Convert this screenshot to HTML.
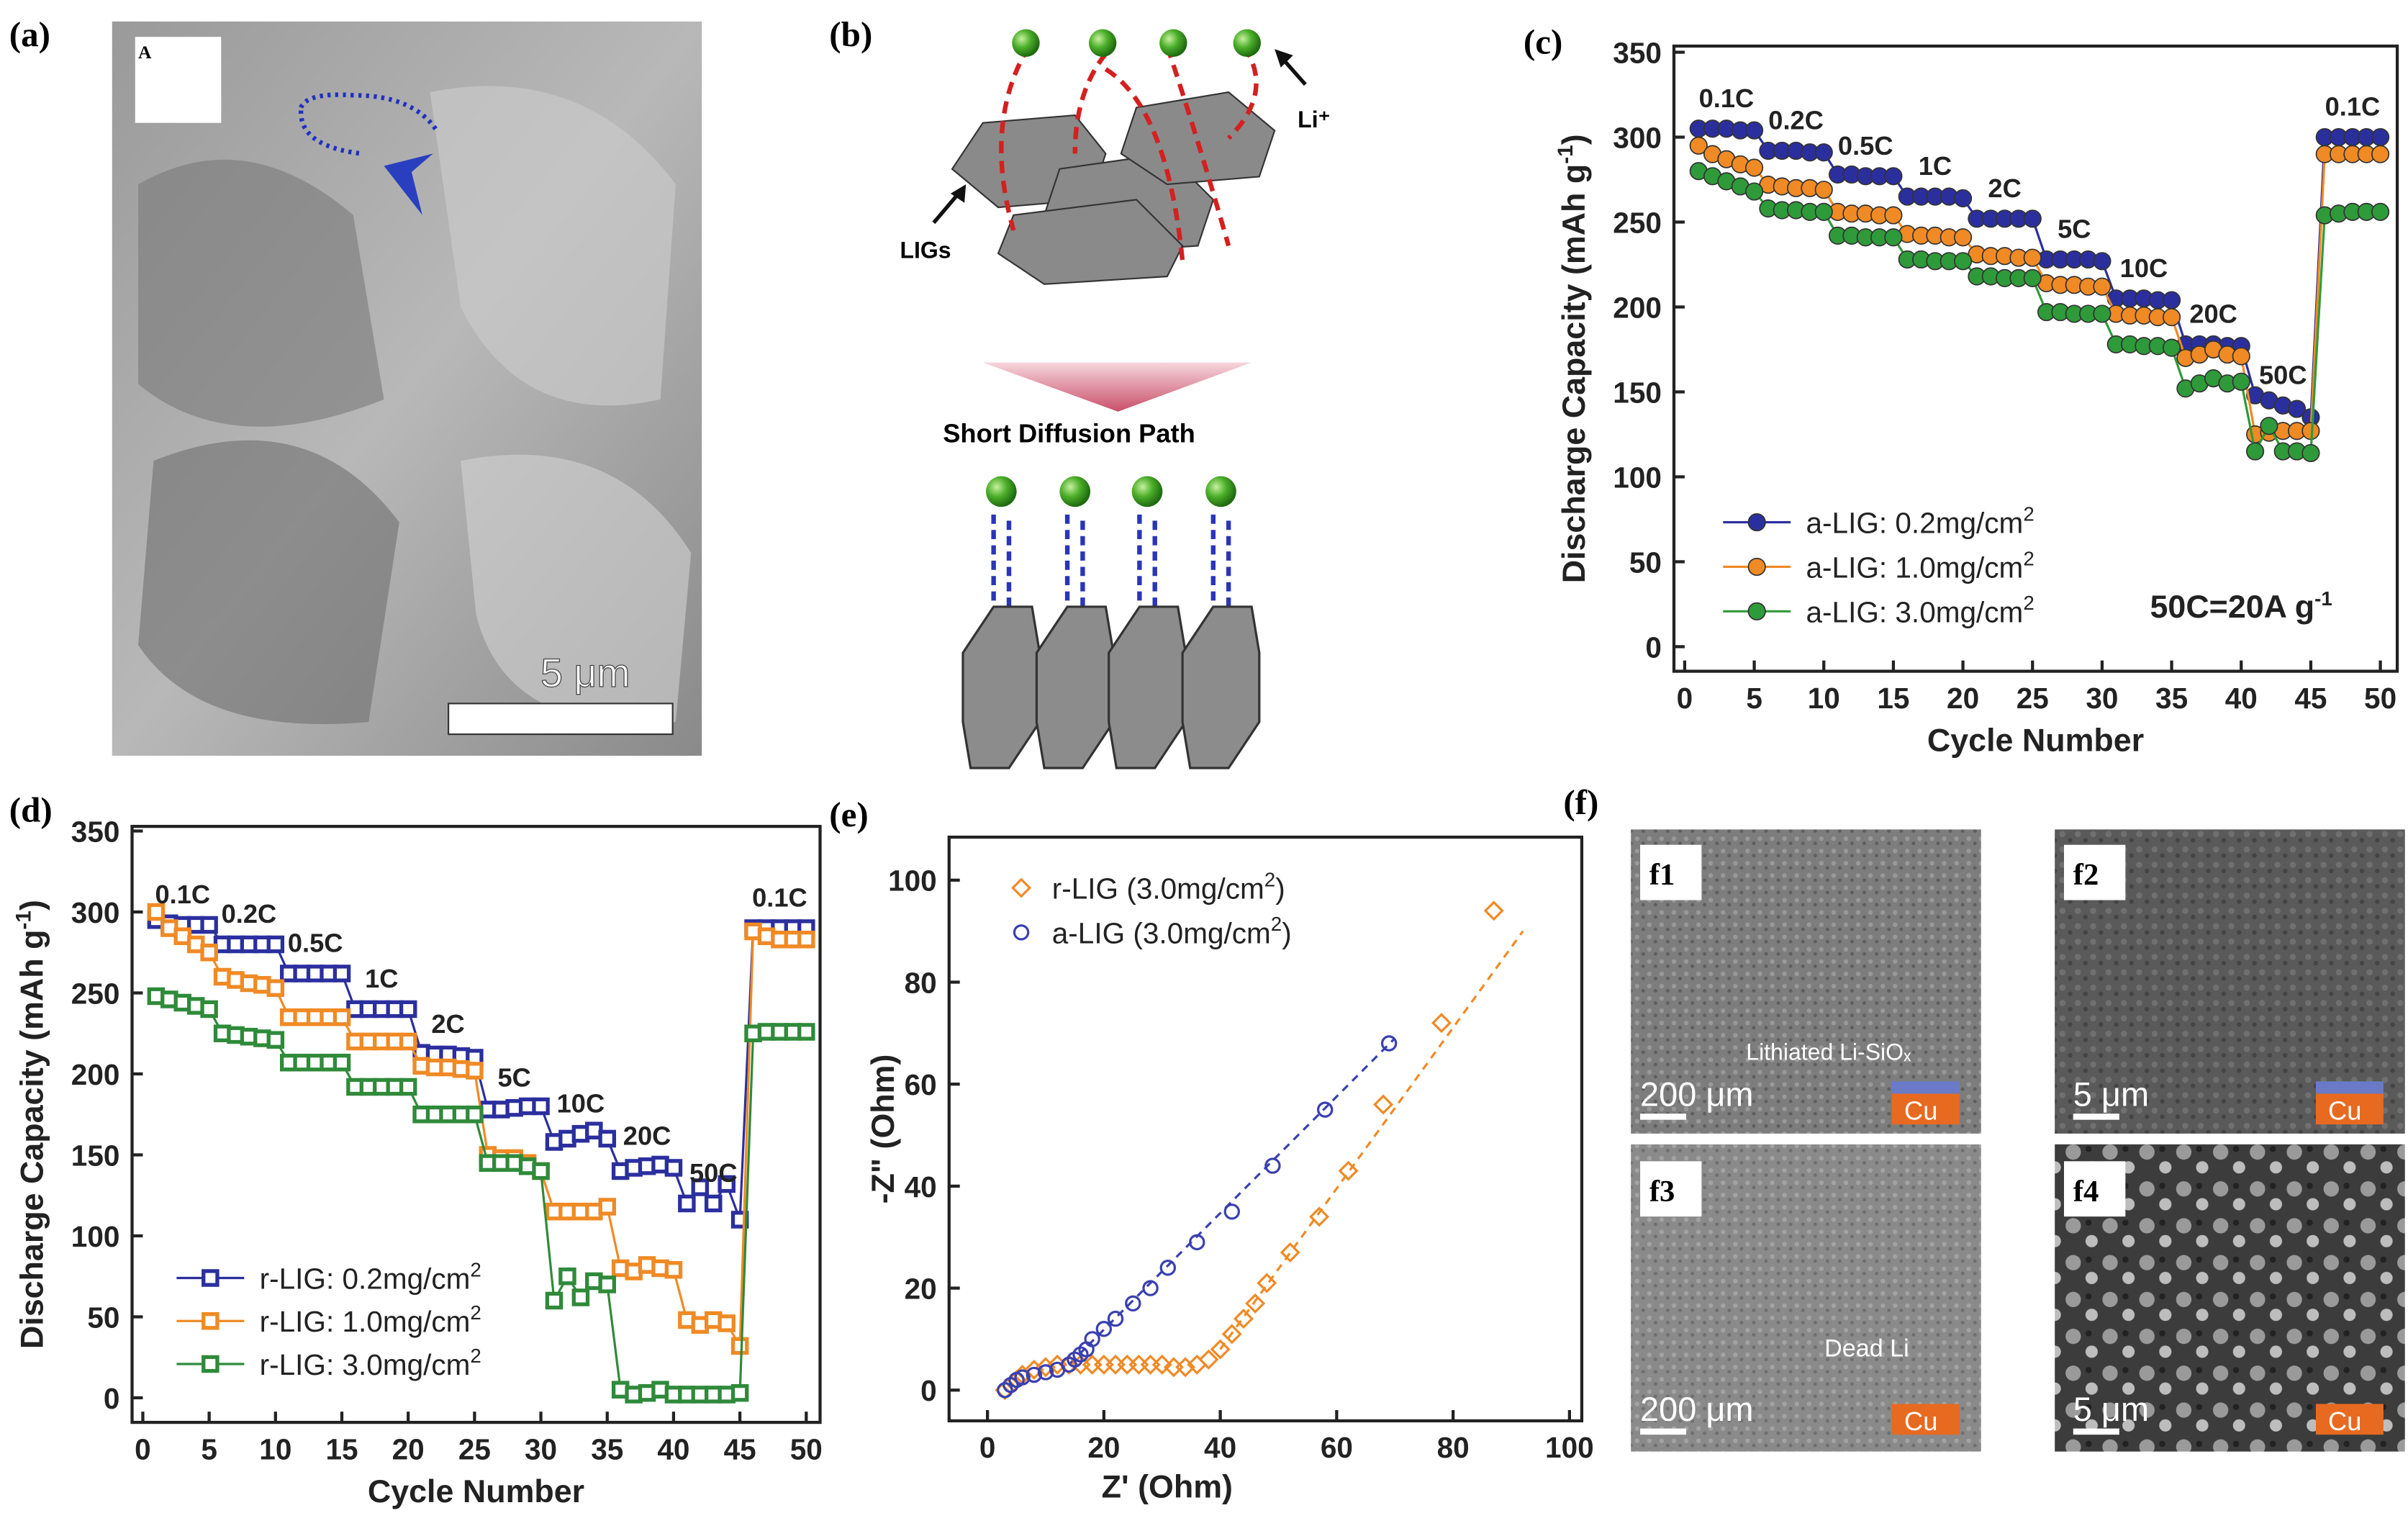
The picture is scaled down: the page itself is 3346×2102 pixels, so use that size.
<!DOCTYPE html>
<html><head><meta charset="utf-8">
<style>
html,body{margin:0;padding:0;background:#fff;}
svg{display:block;font-family:"Liberation Sans",Arial,sans-serif;}
.pl{font-family:"Liberation Serif",serif;font-weight:bold;font-size:23px;}
.tk{font-size:19px;font-weight:bold;fill:#222;}
.at{font-size:21px;font-weight:bold;fill:#222;}
.lg{font-size:19px;fill:#222;}
.rl{font-size:17px;font-weight:bold;fill:#222;}
</style></head>
<body>
<svg id="fig" width="3346" height="2102" viewBox="0 0 1568 985" preserveAspectRatio="none" xmlns="http://www.w3.org/2000/svg">
<defs>
<radialGradient id="gGreen" cx="35%" cy="35%" r="65%"><stop offset="0" stop-color="#c8f0a0"/><stop offset="0.5" stop-color="#4caf2a"/><stop offset="1" stop-color="#1f6b10"/></radialGradient>
<linearGradient id="arrowG" x1="0" y1="0" x2="0" y2="1"><stop offset="0" stop-color="#f6d5dc"/><stop offset="1" stop-color="#c9506a"/></linearGradient>
<linearGradient id="semA" x1="0" y1="0" x2="1" y2="1"><stop offset="0" stop-color="#9a9a9a"/><stop offset="0.5" stop-color="#b8b8b8"/><stop offset="1" stop-color="#8a8a8a"/></linearGradient>
<pattern id="noise1" width="8" height="8" patternUnits="userSpaceOnUse"><rect width="8" height="8" fill="#7d7d7d"/><circle cx="2" cy="2" r="1.5" fill="#999"/><circle cx="6" cy="5" r="1.2" fill="#5f5f5f"/></pattern>
<pattern id="noise2" width="10" height="10" patternUnits="userSpaceOnUse"><rect width="10" height="10" fill="#5a5a5a"/><circle cx="3" cy="3" r="2" fill="#707070"/><circle cx="8" cy="7" r="1.5" fill="#444"/></pattern>
<pattern id="noise4" width="24" height="24" patternUnits="userSpaceOnUse"><rect width="24" height="24" fill="#3c3c3c"/><circle cx="6" cy="6" r="5" fill="#9a9a9a"/><circle cx="18" cy="16" r="4" fill="#bdbdbd"/><circle cx="16" cy="4" r="2" fill="#222"/></pattern>
</defs>

<!-- panel a -->
<text class="pl" x="6" y="30">(a)</text>
<g>
<rect x="73" y="14" width="384" height="478" fill="url(#semA)"/>
<path d="M90 120 Q160 80 230 140 L250 260 Q150 300 90 250Z" fill="#7a7a7a" opacity="0.6"/>
<path d="M280 60 Q380 40 440 120 L430 260 Q340 280 300 200Z" fill="#c9c9c9" opacity="0.7"/>
<path d="M100 300 Q200 260 260 340 L240 470 Q130 480 90 420Z" fill="#6f6f6f" opacity="0.6"/>
<path d="M300 300 Q400 280 450 360 L440 470 Q330 480 310 400Z" fill="#d2d2d2" opacity="0.6"/>
<rect x="88" y="24" width="56" height="56" fill="#fff"/>
<text x="90" y="38" font-size="12" font-weight="bold" font-family="Liberation Serif,serif">A</text>
<path d="M196 70 Q200 60 230 62 Q270 62 285 86" fill="none" stroke="#2030c0" stroke-width="3" stroke-dasharray="2,3"/>
<path d="M196 72 Q195 95 235 100" fill="none" stroke="#2030c0" stroke-width="3" stroke-dasharray="2,3"/>
<polygon points="250,108 275,140 268,112 282,100" fill="#2a3fbf"/>
<rect x="292" y="458" width="146" height="20" fill="#fff" stroke="#333"/>
<text x="352" y="447" font-size="26" fill="#fff" stroke="#444" stroke-width="0.6">5 μm</text>
</g>

<!-- panel b -->
<text class="pl" x="540" y="30">(b)</text>
<g>
<polygon points="640,80 700,75 720,100 710,130 650,135 620,110" fill="#8a8a8a" stroke="#333"/>
<polygon points="690,110 760,100 790,130 780,160 710,165 680,140" fill="#8a8a8a" stroke="#333"/>
<polygon points="660,140 740,130 770,160 760,180 680,185 650,165" fill="#8a8a8a" stroke="#333"/>
<polygon points="740,70 800,60 830,85 820,115 760,120 730,100" fill="#8a8a8a" stroke="#333"/>
<path d="M670 30 Q640 80 660 150 M720 35 Q700 60 700 100 M760 30 Q780 90 800 160 M810 30 Q830 60 800 90 M720 45 Q760 70 770 170" fill="none" stroke="#d42020" stroke-width="3" stroke-dasharray="8,5"/>
<circle cx="668" cy="28" r="9" fill="url(#gGreen)"/><circle cx="718" cy="28" r="9" fill="url(#gGreen)"/>
<circle cx="764" cy="28" r="9" fill="url(#gGreen)"/><circle cx="812" cy="28" r="9" fill="url(#gGreen)"/>
<path d="M850 55 L835 38" stroke="#111" stroke-width="2.5"/><polygon points="830,32 842,36 834,44" fill="#111"/>
<text x="845" y="83" font-size="15" font-weight="bold">Li⁺</text>
<path d="M608 145 L625 125" stroke="#111" stroke-width="2.5"/><polygon points="629,120 628,132 619,126" fill="#111"/>
<text x="586" y="168" font-size="15" font-weight="bold">LIGs</text>
<polygon points="640,236 815,236 728,268" fill="url(#arrowG)"/>
<text x="614" y="288" font-size="17" font-weight="bold">Short Diffusion Path</text>
<g id="hexrow"></g>
</g>

<!-- panel c -->
<text class="pl" x="992" y="35">(c)</text>
<g id="chartC"></g>
<!-- panel d -->
<text class="pl" x="6" y="535">(d)</text>
<g id="chartD"></g>
<!-- panel e -->
<text class="pl" x="540" y="538">(e)</text>
<g id="chartE"></g>

<!-- panel f -->
<text class="pl" x="1018" y="530">(f)</text>
<g>
<rect x="1062" y="540" width="228" height="198" fill="url(#noise1)"/>
<rect x="1338" y="540" width="228" height="198" fill="url(#noise2)"/>
<rect x="1062" y="745" width="228" height="200" fill="url(#noise1)" opacity="0.9"/>
<rect x="1338" y="745" width="228" height="200" fill="url(#noise4)"/>
<g font-family="Liberation Serif,serif" font-weight="bold" font-size="20">
<rect x="1068" y="550" width="40" height="36" fill="#fff"/><text x="1074" y="576">f1</text>
<rect x="1344" y="550" width="40" height="36" fill="#fff"/><text x="1350" y="576">f2</text>
<rect x="1068" y="756" width="40" height="36" fill="#fff"/><text x="1074" y="782">f3</text>
<rect x="1344" y="756" width="40" height="36" fill="#fff"/><text x="1350" y="782">f4</text>
</g>
<g font-size="22" fill="#fff">
<text x="1068" y="720">200 μm</text><rect x="1068" y="725" width="30" height="4" fill="#fff"/>
<text x="1350" y="720">5 μm</text><rect x="1350" y="725" width="30" height="4" fill="#fff"/>
<text x="1068" y="925">200 μm</text><rect x="1068" y="930" width="30" height="4" fill="#fff"/>
<text x="1350" y="925">5 μm</text><rect x="1350" y="930" width="30" height="4" fill="#fff"/>
</g>
<text x="1137" y="690" font-size="15" fill="#fff">Lithiated Li-SiOₓ</text>
<text x="1188" y="883" font-size="16" fill="#fff">Dead Li</text>
<g>
<rect x="1232" y="712" width="44" height="20" fill="#e86a20"/><text x="1240" y="729" font-size="17" fill="#fff">Cu</text>
<rect x="1508" y="712" width="44" height="20" fill="#e86a20"/><text x="1516" y="729" font-size="17" fill="#fff">Cu</text>
<rect x="1232" y="914" width="44" height="20" fill="#e86a20"/><text x="1240" y="931" font-size="17" fill="#fff">Cu</text>
<rect x="1508" y="914" width="44" height="20" fill="#e86a20"/><text x="1516" y="931" font-size="17" fill="#fff">Cu</text>
<rect x="1232" y="704" width="44" height="8" fill="#6a7ac8"/><rect x="1508" y="704" width="44" height="8" fill="#6a7ac8"/>
</g>
</g>
</svg>

<script>
// ---------- Panel (c) data ----------
const cycles = Array.from({length:50},(_, i)=>i+1);
const rateLabels = ["0.1C","0.2C","0.5C","1C","2C","5C","10C","20C","50C","0.1C"];
const cBlue  = [305,305,305,304,304, 292,292,292,291,291, 278,278,277,277,277, 265,265,265,265,264, 252,252,252,252,252, 228,228,228,228,227, 205,205,205,204,204, 178,178,178,177,177, 148,145,142,140,135, 300,300,300,300,300];
const cOrange= [295,290,287,284,282, 272,271,270,270,269, 256,255,255,254,254, 243,242,242,241,241, 231,230,230,229,229, 214,213,213,212,212, 196,195,195,194,194, 170,172,175,172,171, 125,126,127,127,127, 290,290,290,290,290];
const cGreen = [280,277,274,271,268, 258,257,257,256,256, 242,242,241,241,241, 228,228,227,227,227, 218,218,217,217,217, 197,197,196,196,196, 178,178,177,177,176, 152,155,158,155,156, 115,130,115,115,114, 254,255,256,256,256];
const cLegend = ["a-LIG: 0.2mg/cm","a-LIG: 1.0mg/cm","a-LIG: 3.0mg/cm"];
const capTicks = [0,50,100,150,200,250,300,350];
const cycTicks = [0,5,10,15,20,25,30,35,40,45,50];

// ---------- Panel (d) data ----------
const dBlue  = [295,293,292,292,292, 280,280,280,280,280, 262,262,262,262,262, 240,240,240,240,240, 213,212,212,211,210, 178,178,179,180,180, 158,160,163,165,160, 140,142,143,144,142, 120,130,120,132,110, 290,290,290,290,290];
const dOrange= [300,290,285,280,275, 260,258,256,255,253, 235,235,235,235,235, 220,220,220,220,220, 205,204,204,203,202, 150,148,148,145,140, 115,115,115,115,118, 80,78,82,80,79, 48,45,48,46,32, 288,285,283,283,283];
const dGreen = [248,246,244,242,240, 225,224,223,222,221, 207,207,207,207,207, 192,192,192,192,192, 175,175,175,175,175, 145,145,145,143,140, 60,75,62,72,70, 5,2,3,5,2, 2,2,2,2,3, 225,226,226,226,226];
const dLegend = ["r-LIG: 0.2mg/cm","r-LIG: 1.0mg/cm","r-LIG: 3.0mg/cm"];

// ---------- Panel (e) data ----------
const rZre = [3,4,5,6,8,10,12,14,16,18,20,22,24,26,28,30,32,34,36,38,40,42,44,46,48,52,57,62,68,78,87];
const rZim = [0,1,2,3,4,4.5,5,5,5,5,5,5,5,5,5,5,4.5,4.5,5,6,8,11,14,17,21,27,34,43,56,72,94];
const aZre = [3,4,5,6,8,10,12,14,15,16,17,18,20,22,25,28,31,36,42,49,58,69];
const aZim = [0,1,2,2.5,3,3.5,4,5,6,7,8,10,12,14,17,20,24,29,35,44,55,68];
const rFit = [[40,8],[92,90]];
const aFit = [[14,5],[70,69]];
const zTicks = [0,20,40,60,80,100];
const eLegend = ["r-LIG (3.0mg/cm","a-LIG (3.0mg/cm"];

const NS="http://www.w3.org/2000/svg";
function mk(parent,tag,attrs,text){const e=document.createElementNS(NS,tag);for(const k in attrs)e.setAttribute(k,attrs[k]);if(text!==undefined)e.textContent=text;parent.appendChild(e);return e;}

// hexagon row in panel b
(function(){
  const g=document.getElementById('hexrow');
  [652,700,747,795].forEach(cx=>{
    const c=mk(g,'circle',{cx:cx,cy:320,r:10,fill:'url(#gGreen)'});
    
    
    mk(g,'path',{d:`M${cx-5} 335 L${cx-5} 395 M${cx+5} 395 L${cx+5} 335`,stroke:'#2a35b8','stroke-width':3,'stroke-dasharray':'6,4',fill:'none'});
    const h=mk(g,'polygon',{points:`${cx-25},425 ${cx-5},395 ${cx+20},395 ${cx+25},425 ${cx+25},470 ${cx+5},500 ${cx-20},500 ${cx-25},470`,fill:'#8c8c8c',stroke:'#333','stroke-width':1.5});
    
    
  });
})();

function rateChart(gid,box,series,colors,legend,shape,rlabels,legendPos){
  const g=document.getElementById(gid);
  const X=v=>box.x0+(v-0)/(50-0)*(box.x1-box.x0);
  const Y=v=>box.y0-(v)/350*(box.y0-box.y1);
  const fr=mk(g,'rect',{x:box.l,y:box.t,width:box.r-box.l,height:box.b-box.t,fill:'none',stroke:'#222','stroke-width':2});
  
  
  capTicks.forEach(t=>{
    mk(g,'line',{x1:box.l,x2:box.l+7,y1:Y(t),y2:Y(t),stroke:'#222','stroke-width':2});
    const tl=mk(g,'text',{x:box.l-8,y:Y(t)+7,'text-anchor':'end',class:'tk'},String(t));
    
    
  });
  cycTicks.forEach(t=>{
    mk(g,'line',{x1:X(t),x2:X(t),y1:box.b,y2:box.b-7,stroke:'#222','stroke-width':2});
    const tl=mk(g,'text',{x:X(t),y:box.b+24,'text-anchor':'middle',class:'tk'},String(t));
    
    
  });
  const xt=mk(g,'text',{x:(box.l+box.r)/2,y:box.b+52,'text-anchor':'middle',class:'at'},'Cycle Number');
  
  
  const cy=(box.t+box.b)/2;
  const yt=mk(g,'text',{x:box.l-58,y:cy,'text-anchor':'middle',class:'at',transform:`rotate(-90 ${box.l-58} ${cy})`});
  
  
  yt.innerHTML='Discharge Capacity (mAh g<tspan dy="-8" font-size="14">-1</tspan><tspan dy="8">)</tspan>';
  series.forEach((s,si)=>{
    const pts=s.map((v,i)=>X(cycles[i])+','+Y(v)).join(' ');
    const pl=mk(g,'polyline',{points:pts,fill:'none',stroke:colors[si],'stroke-width':1.5});
    
    
    s.forEach((v,i)=>{
      let m;
      if(shape==='circle') m=mk(g,'circle',{cx:X(cycles[i]),cy:Y(v),r:5.5,fill:colors[si],stroke:'#333','stroke-width':0.8});
      else m=mk(g,'rect',{x:X(cycles[i])-4.5,y:Y(v)-4.5,width:9,height:9,fill:'#fff',stroke:colors[si],'stroke-width':2.5});
      
      
    });
  });
  rlabels.forEach((lbl,k)=>{
    const i=k*5+2;
    const top=Math.max(series[0][i],series[1][i]);
    const t=mk(g,'text',{x:X(cycles[i]),y:Y(top)-14,'text-anchor':'middle',class:'rl'},lbl);
    
    
  });
  legend.forEach((lbl,k)=>{
    const ly=legendPos.y+k*legendPos.dy;
    mk(g,'line',{x1:legendPos.x,x2:legendPos.x+44,y1:ly,y2:ly,stroke:colors[k],'stroke-width':1.5});
    if(shape==='circle') mk(g,'circle',{cx:legendPos.x+22,cy:ly,r:5.5,fill:colors[k],stroke:'#333','stroke-width':0.8});
    else mk(g,'rect',{x:legendPos.x+17.5,y:ly-4.5,width:9,height:9,fill:'#fff',stroke:colors[k],'stroke-width':2.5});
    const t=mk(g,'text',{x:legendPos.x+54,y:ly+7,class:'lg'});
    
    
    t.innerHTML=lbl+'<tspan dy="-8" font-size="13">2</tspan>';
  });
}
rateChart('chartC',{l:1090,r:1561,t:30,b:437,x0:1097,x1:1550,y0:421,y1:34},[cBlue,cOrange,cGreen],['#2b2f9e','#f08a25','#2f9a3a'],cLegend,'circle',rateLabels,{x:1122,y:340,dy:29});
(function(){const t=mk(document.getElementById('chartC'),'text',{x:1400,y:402,class:'at','font-size':'19'});


t.innerHTML='50C=20A g<tspan dy="-8" font-size="13">-1</tspan>';})();
rateChart('chartD',{l:86,r:534,t:538,b:926,x0:93,x1:525,y0:910,y1:541},[dBlue,dOrange,dGreen],['#2b2f9e','#f08a25','#2f8a3a'],dLegend,'square',rateLabels,{x:115,y:832,dy:28});

// panel e
(function(){
  const g=document.getElementById('chartE');
  const box={l:618,r:1030,t:545,b:925};
  const X=v=>643+v/100*(1022-643);
  const Y=v=>905-v/100*(905-573);
  const fr=mk(g,'rect',{x:box.l,y:box.t,width:box.r-box.l,height:box.b-box.t,fill:'none',stroke:'#222','stroke-width':2});
  
  
  zTicks.forEach(t=>{
    mk(g,'line',{x1:box.l,x2:box.l+7,y1:Y(t),y2:Y(t),stroke:'#222','stroke-width':2});
    const a=mk(g,'text',{x:box.l-8,y:Y(t)+7,'text-anchor':'end',class:'tk'},String(t));
    
    
    mk(g,'line',{x1:X(t),x2:X(t),y1:box.b,y2:box.b-7,stroke:'#222','stroke-width':2});
    const b=mk(g,'text',{x:X(t),y:box.b+24,'text-anchor':'middle',class:'tk'},String(t));
    
    
  });
  const xt=mk(g,'text',{x:760,y:975,'text-anchor':'middle',class:'at'},"Z' (Ohm)");
  
  
  const yt=mk(g,'text',{x:582,y:735,'text-anchor':'middle',class:'at',transform:'rotate(-90 582 735)'},'-Z" (Ohm)');
  
  
  const f1=mk(g,'line',{x1:X(rFit[0][0]),y1:Y(rFit[0][1]),x2:X(rFit[1][0]),y2:Y(rFit[1][1]),stroke:'#f08a25','stroke-width':1.5,'stroke-dasharray':'5,4'});
  
  
  const f2=mk(g,'line',{x1:X(aFit[0][0]),y1:Y(aFit[0][1]),x2:X(aFit[1][0]),y2:Y(aFit[1][1]),stroke:'#3a40b0','stroke-width':1.5,'stroke-dasharray':'5,4'});
  
  
  rZre.forEach((x,i)=>{
    const cx=X(x),cy=Y(rZim[i]);
    const m=mk(g,'polygon',{points:`${cx},${cy-5.5} ${cx+5.5},${cy} ${cx},${cy+5.5} ${cx-5.5},${cy}`,fill:'none',stroke:'#f08a25','stroke-width':1.5});
    
    
  });
  aZre.forEach((x,i)=>{
    const m=mk(g,'circle',{cx:X(x),cy:Y(aZim[i]),r:4.5,fill:'none',stroke:'#3a40b0','stroke-width':1.5});
    
    
  });
  const cols=['#f08a25','#3a40b0'];
  eLegend.forEach((lbl,k)=>{
    const ly=578+k*29, lx=665;
    if(k===0) mk(g,'polygon',{points:`${lx},${ly-5.5} ${lx+5.5},${ly} ${lx},${ly+5.5} ${lx-5.5},${ly}`,fill:'none',stroke:cols[k],'stroke-width':1.5});
    else mk(g,'circle',{cx:lx,cy:ly,r:4.5,fill:'none',stroke:cols[k],'stroke-width':1.5});
    const t=mk(g,'text',{x:lx+20,y:ly+7,class:'lg'});
    
    
    t.innerHTML=lbl+'<tspan dy="-8" font-size="13">2</tspan><tspan dy="8">)</tspan>';
  });
})();
</script>
</body></html>
